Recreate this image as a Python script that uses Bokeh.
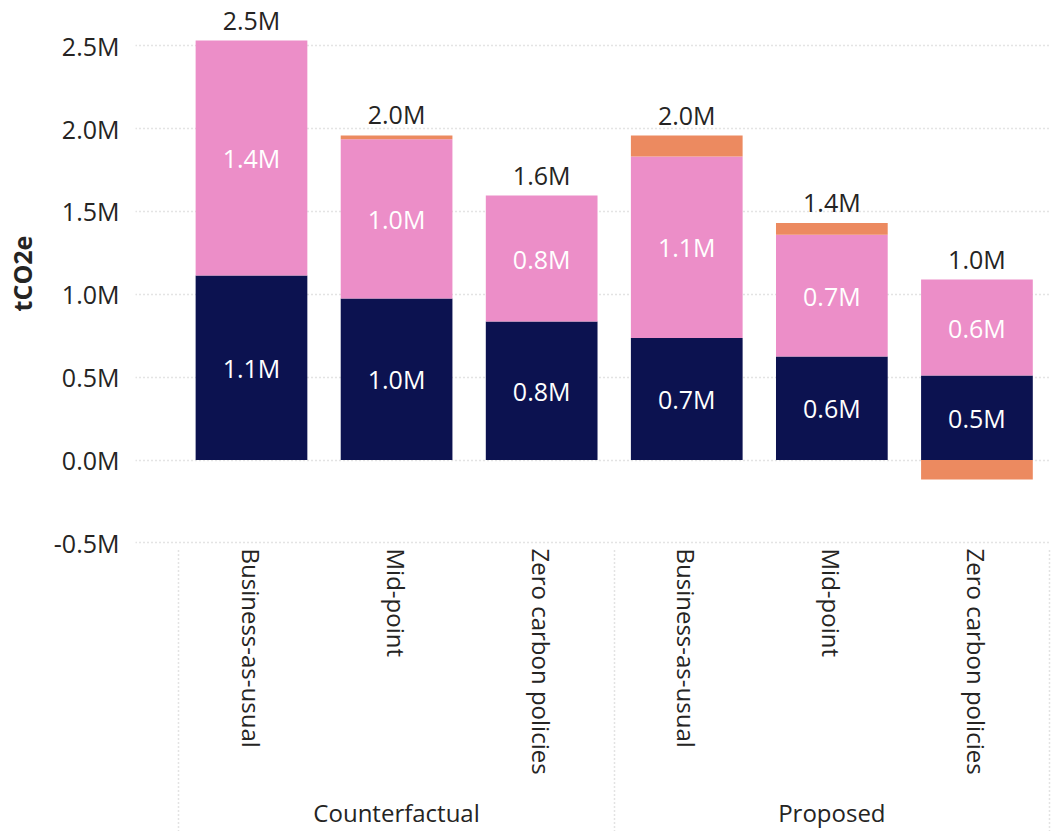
import numpy as np
from bokeh.plotting import figure
from bokeh.models import Range1d, FixedTicker, LinearAxis
from bokeh.core.properties import value
from bokeh.embed import file_html
from bokeh.resources import INLINE

# ---- data (tCO2e) ----
groups = ["Counterfactual", "Counterfactual", "Counterfactual", "Proposed", "Proposed", "Proposed"]
scenarios = ["Business-as-usual", "Mid-point", "Zero carbon policies",
             "Business-as-usual", "Mid-point", "Zero carbon policies"]
series_dark = [1.113e6, 0.975e6, 0.836e6, 0.737e6, 0.624e6, 0.510e6]
series_pink = [1.418e6, 0.960e6, 0.760e6, 1.094e6, 0.736e6, 0.579e6]
series_orange = [0.0, 0.024e6, 0.0, 0.127e6, 0.071e6, -0.118e6]
y_ticks = [-500000, 0, 500000, 1000000, 1500000, 2000000, 2500000]
y_tick_labels = ["-0.5M", "0.0M", "0.5M", "1.0M", "1.5M", "2.0M", "2.5M"]
y_title = "tCO2e"

COL_DARK = "#0C1250"
COL_PINK = "#EC8EC8"
COL_ORANGE = "#EC8A60"
TXT = "#252423"
GRID = "#c8c8c8"
FONT = "Open Sans"

def fmt(v):
    return f"{v / 1e6:.1f}M"

x = np.arange(len(scenarios), dtype=float)
a = np.array(series_dark)
b = np.array(series_pink)
c = np.array(series_orange)
pos_top = a + b
c_bottom = np.where(c >= 0, pos_top, 0.0)
c_top = np.where(c >= 0, pos_top + c, c)
total = a + b + c
total_y = pos_top + np.clip(c, 0, None)

group_names = list(dict.fromkeys(groups))
group_centers = [float(np.mean([i for i, g in enumerate(groups) if g == gn])) for gn in group_names]
boundaries = [-0.5] + [i - 0.5 for i in range(1, len(groups)) if groups[i] != groups[i - 1]] + [len(groups) - 0.5]

BOTTOM = 285
p = figure(width=1053, height=831,
           x_range=Range1d(-0.7994, 5.507), y_range=Range1d(-0.522e6, 2.773e6),
           output_backend="svg", toolbar_location=None,
           min_border_left=135, min_border_right=3, min_border_top=0, min_border_bottom=BOTTOM)
p.outline_line_color = None
p.background_fill_color = "white"

W = 0.77
p.vbar(x=x, bottom=0, top=a, width=W, fill_color=COL_DARK, line_color=None)
p.vbar(x=x, bottom=a, top=pos_top, width=W, fill_color=COL_PINK, line_color=None)
p.vbar(x=x, bottom=c_bottom, top=c_top, width=W, fill_color=COL_ORANGE, line_color=None)

p.text(x=x, y=a / 2, text=[fmt(v) for v in a], text_align="center", text_baseline="middle",
       text_color="white", text_font=value(FONT), text_font_size="25px")
p.text(x=x, y=a + b / 2, text=[fmt(v) for v in b], text_align="center", text_baseline="middle",
       text_color="white", text_font=value(FONT), text_font_size="25px")
p.text(x=x, y=total_y, text=[fmt(v) for v in total], text_align="center", text_baseline="bottom",
       y_offset=-4, text_color=TXT, text_font=value(FONT), text_font_size="25px")

# y axis
ya = p.yaxis[0]
ya.ticker = FixedTicker(ticks=y_ticks)
ya.major_label_overrides = {t: l for t, l in zip(y_ticks, y_tick_labels)}
ya.axis_line_color = None
ya.major_tick_line_color = None
ya.minor_tick_line_color = None
ya.major_label_standoff = 10
ya.major_label_text_font = FONT
ya.major_label_text_font_size = "25px"
ya.major_label_text_color = TXT
ya.axis_label = y_title
ya.axis_label_text_font = FONT
ya.axis_label_text_font_size = "25px"
ya.axis_label_text_font_style = "bold"
ya.axis_label_text_color = TXT
ya.axis_label_standoff = 12
p.ygrid.grid_line_color = GRID
p.ygrid.grid_line_dash = "1 3"
p.ygrid.grid_line_width = 1.5
p.xgrid.grid_line_color = None

# x axis: scenarios
xa = p.xaxis[0]
xa.ticker = FixedTicker(ticks=list(x))
xa.major_label_overrides = {float(i): s for i, s in zip(x, scenarios)}
xa.major_label_orientation = "vertical"
xa.major_label_standoff = 2
xa.major_tick_out = 0
xa.major_tick_in = 0
xa.minor_tick_line_color = None
xa.axis_line_color = None
xa.major_label_text_font = FONT
xa.major_label_text_font_size = "24px"
xa.major_label_text_color = TXT

# x axis: groups
ga = LinearAxis(ticker=FixedTicker(ticks=group_centers),
                major_label_overrides={g: n for g, n in zip(group_centers, group_names)},
                axis_line_color=None, major_tick_line_color=None, minor_tick_line_color=None,
                major_tick_out=0, major_tick_in=0, major_label_standoff=18,
                major_label_text_font=FONT, major_label_text_font_size="24px",
                major_label_text_color=TXT)
p.add_layout(ga, "below")

# group separators (dotted) drawn as inward ticks of an outer, label-less axis
sa = LinearAxis(ticker=FixedTicker(ticks=boundaries),
                major_label_overrides={bd: "" for bd in boundaries},
                major_label_text_font_size="0px", major_label_standoff=0,
                axis_line_color=None, minor_tick_line_color=None,
                major_tick_in=283, major_tick_out=0,
                major_tick_line_color=GRID, major_tick_line_dash="1 3", major_tick_line_width=1.5)
p.add_layout(sa, "below")

open("out.html", "w").write(file_html(p, INLINE))
